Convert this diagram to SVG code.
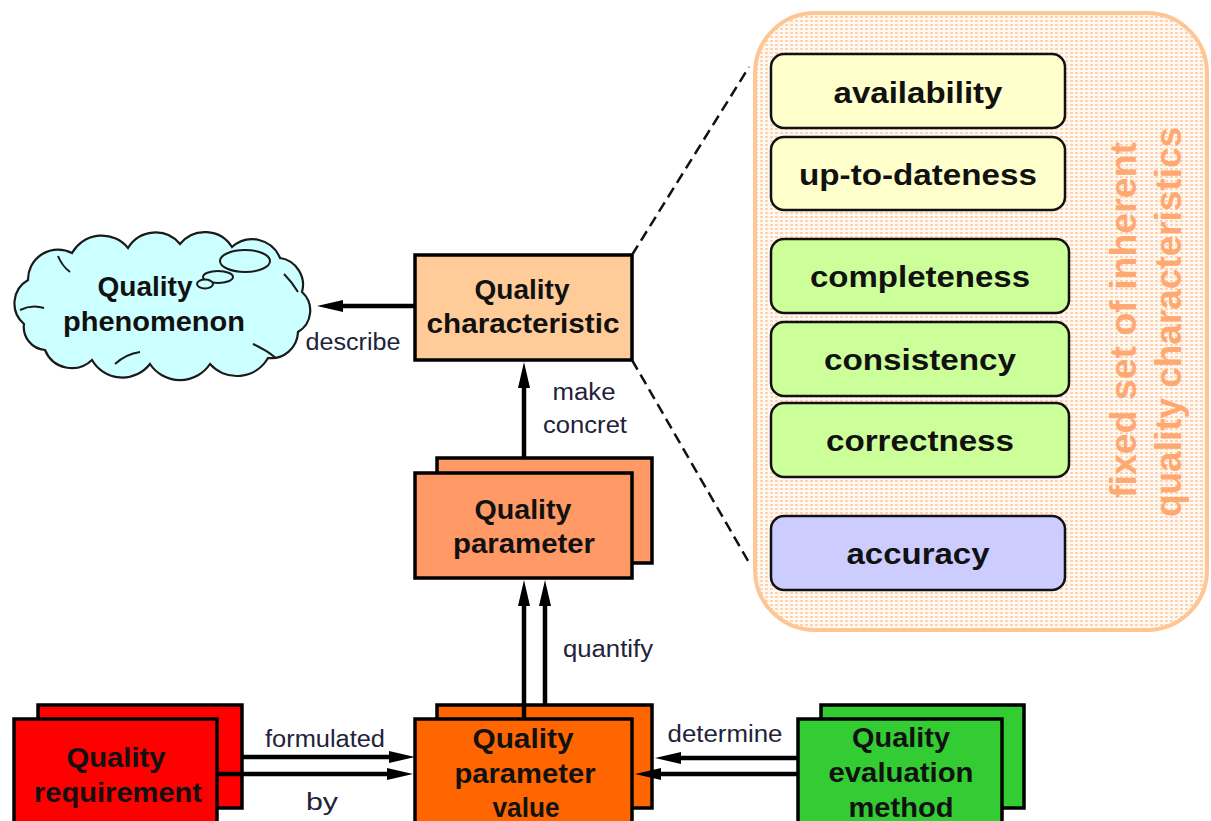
<svg xmlns="http://www.w3.org/2000/svg" width="1211" height="821" viewBox="0 0 1211 821">
<style>
.box{stroke:#000;stroke-width:3.5}
.ibox{stroke:#111;stroke-width:2.5}
.lbl{font-family:"Liberation Sans",Arial,sans-serif;font-weight:bold;font-size:27px;fill:#111;text-anchor:middle}
.item{font-family:"Liberation Sans",Arial,sans-serif;font-weight:bold;font-size:30px;fill:#111;text-anchor:middle}
.elbl{font-family:"Liberation Sans",Arial,sans-serif;font-size:23px;fill:#22223a;text-anchor:middle}
.conn{stroke:#000;stroke-width:4.5;fill:none;marker-end:url(#ah)}
.dash{stroke:#111;stroke-width:2.5;fill:none;stroke-dasharray:11 6}
.vt{font-family:"Liberation Sans",Arial,sans-serif;font-weight:bold;font-size:36px;fill:#FFA872;text-anchor:middle}
</style>
<defs>
<marker id="ah" viewBox="0 0 26 12" refX="6" refY="6" markerWidth="26" markerHeight="12" markerUnits="userSpaceOnUse" orient="auto">
<path d="M0,0 L26,6 L0,12 z" fill="#000"/>
</marker>
<pattern id="dots" width="5" height="4" patternUnits="userSpaceOnUse">
<rect width="5" height="4" fill="#FFF9F3"/>
<rect width="3" height="2" fill="#FFD3B0"/>
</pattern>
</defs>
<rect width="1211" height="821" fill="#fff"/>

<g id="panel">
<rect x="755" y="13" width="452" height="617" rx="60" fill="url(#dots)" stroke="#FFC592" stroke-width="4"/>
<text class="vt" transform="translate(1136,320) rotate(-90)" textLength="356" lengthAdjust="spacingAndGlyphs">fixed set of inherent</text>
<text class="vt" transform="translate(1181,322) rotate(-90)" textLength="390" lengthAdjust="spacingAndGlyphs">quality characteristics</text>
</g>
<g id="availability"><rect class="ibox" x="771" y="54" width="294" height="74" rx="13" fill="#FFFFCC"/><text class="item" x="918" y="103" textLength="169" lengthAdjust="spacingAndGlyphs">availability</text></g>
<g id="up-to-dateness"><rect class="ibox" x="771" y="137" width="294" height="73" rx="13" fill="#FFFFCC"/><text class="item" x="918" y="185" textLength="238" lengthAdjust="spacingAndGlyphs">up-to-dateness</text></g>
<g id="completeness"><rect class="ibox" x="771" y="239" width="298" height="74" rx="13" fill="#CCFF99"/><text class="item" x="920" y="287" textLength="220" lengthAdjust="spacingAndGlyphs">completeness</text></g>
<g id="consistency"><rect class="ibox" x="771" y="322" width="298" height="74" rx="13" fill="#CCFF99"/><text class="item" x="920" y="370" textLength="192" lengthAdjust="spacingAndGlyphs">consistency</text></g>
<g id="correctness"><rect class="ibox" x="771" y="403" width="298" height="74" rx="13" fill="#CCFF99"/><text class="item" x="920" y="451" textLength="188" lengthAdjust="spacingAndGlyphs">correctness</text></g>
<g id="accuracy"><rect class="ibox" x="771" y="516" width="294" height="74" rx="13" fill="#CCCCFF"/><text class="item" x="918" y="564" textLength="143" lengthAdjust="spacingAndGlyphs">accuracy</text></g>

<g id="quality-phenomenon">
<path d="M24,324 A27,27 0 0 1 28,280 A30,30 0 0 1 72,253 A34,34 0 0 1 128,248 A32,32 0 0 1 180,244 A32,32 0 0 1 232,247 A30,30 0 0 1 280,258 A27,27 0 0 1 302,292 A25,25 0 0 1 298,332 A27,27 0 0 1 268,358 A36,36 0 0 1 210,364 A36,36 0 0 1 150,364 A35,35 0 0 1 92,360 A29,29 0 0 1 45,350 A23,23 0 0 1 24,324 Z" fill="#CCFFFF" stroke="#1a1a1a" stroke-width="2.2"/>
<g fill="none" stroke="#1a1a1a" stroke-width="2">
<path d="M20,310 Q32,304 44,308"/>
<path d="M58,256 Q62,266 70,272"/>
<path d="M115,364 Q126,354 140,352"/>
<path d="M253,344 Q266,350 276,358"/>
<path d="M284,274 Q292,282 298,292"/>
</g>
<ellipse cx="245" cy="261" rx="25" ry="11" fill="#CCFFFF" stroke="#1a1a1a" stroke-width="2"/>
<ellipse cx="218" cy="277" rx="15" ry="6" fill="#CCFFFF" stroke="#1a1a1a" stroke-width="2"/>
<ellipse cx="205" cy="284" rx="8" ry="4.5" fill="#CCFFFF" stroke="#1a1a1a" stroke-width="2"/>
<text class="lbl" x="145" y="296" textLength="95" lengthAdjust="spacingAndGlyphs">Quality</text>
<text class="lbl" x="154" y="331" textLength="182" lengthAdjust="spacingAndGlyphs">phenomenon</text>
</g>

<g id="quality-characteristic">
<rect class="box" x="415" y="255" width="217" height="105" fill="#FFCC99"/>
<text class="lbl" x="522" y="299" textLength="95" lengthAdjust="spacingAndGlyphs">Quality</text>
<text class="lbl" x="523" y="333" textLength="193" lengthAdjust="spacingAndGlyphs">characteristic</text>
</g>

<g id="quality-parameter">
<rect class="box" x="437" y="458" width="215" height="105" fill="#FF9966"/>
<rect class="box" x="415" y="473" width="217" height="105" fill="#FF9966"/>
<text class="lbl" x="523" y="519" textLength="97" lengthAdjust="spacingAndGlyphs">Quality</text>
<text class="lbl" x="524" y="553" textLength="142" lengthAdjust="spacingAndGlyphs">parameter</text>
</g>

<g id="quality-requirement">
<rect class="box" x="38" y="705" width="204" height="103" fill="#FF0000"/>
<rect class="box" x="14" y="719" width="203" height="110" fill="#FF0000"/>
<text class="lbl" x="116" y="767" textLength="99" lengthAdjust="spacingAndGlyphs">Quality</text>
<text class="lbl" x="118" y="802" textLength="168" lengthAdjust="spacingAndGlyphs">requirement</text>
</g>

<g id="quality-parameter-value">
<rect class="box" x="437" y="705" width="215" height="103" fill="#FF6600"/>
<rect class="box" x="415" y="719" width="217" height="110" fill="#FF6600"/>
<text class="lbl" x="523" y="748" textLength="101" lengthAdjust="spacingAndGlyphs">Quality</text>
<text class="lbl" x="525" y="783" textLength="141" lengthAdjust="spacingAndGlyphs">parameter</text>
<text class="lbl" x="526" y="817" textLength="67" lengthAdjust="spacingAndGlyphs">value</text>
</g>

<g id="quality-evaluation-method">
<rect class="box" x="821" y="705" width="203" height="103" fill="#33CC33"/>
<rect class="box" x="798" y="719" width="204" height="110" fill="#33CC33"/>
<text class="lbl" x="901" y="747" textLength="98" lengthAdjust="spacingAndGlyphs">Quality</text>
<text class="lbl" x="901" y="782" textLength="145" lengthAdjust="spacingAndGlyphs">evaluation</text>
<text class="lbl" x="901" y="817" textLength="105" lengthAdjust="spacingAndGlyphs">method</text>
</g>

<g id="connectors">
<path class="dash" d="M632,255 L749,67"/>
<path class="dash" d="M632,360 L751,566"/>
<path class="conn" d="M415,306 H337"/>
<path class="conn" d="M524,458 V382"/>
<path class="conn" d="M524,719 V600"/>
<path class="conn" d="M545,705 V600"/>
<path class="conn" d="M242,757 H395"/>
<path class="conn" d="M217,774 H393"/>
<path class="conn" d="M798,758 H675"/>
<path class="conn" d="M798,774 H655"/>
<text class="elbl" x="353" y="350" textLength="95" lengthAdjust="spacingAndGlyphs">describe</text>
<text class="elbl" x="584" y="400" textLength="63" lengthAdjust="spacingAndGlyphs">make</text>
<text class="elbl" x="585" y="433" textLength="84" lengthAdjust="spacingAndGlyphs">concret</text>
<text class="elbl" x="608" y="657" textLength="90" lengthAdjust="spacingAndGlyphs">quantify</text>
<text class="elbl" x="325" y="747" textLength="120" lengthAdjust="spacingAndGlyphs">formulated</text>
<text class="elbl" x="322" y="810" textLength="32" lengthAdjust="spacingAndGlyphs">by</text>
<text class="elbl" x="725" y="742" textLength="115" lengthAdjust="spacingAndGlyphs">determine</text>
</g>
</svg>
